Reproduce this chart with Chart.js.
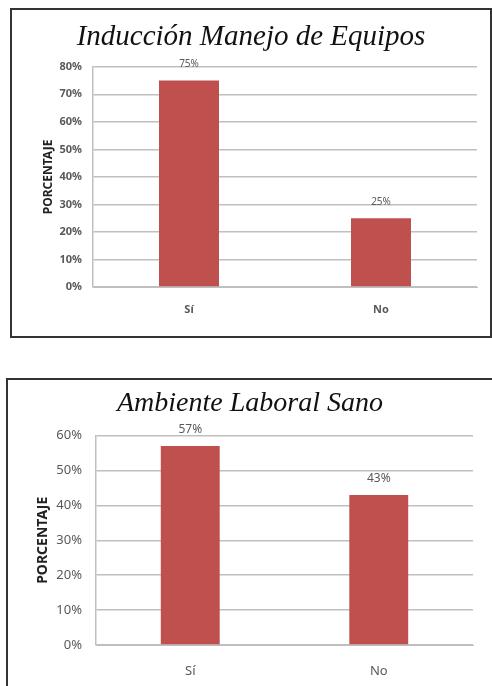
<!DOCTYPE html>
<html>
<head>
<meta charset="utf-8">
<script src="https://cdn.jsdelivr.net/npm/chart.js@4"></script>
<style>
  body { margin: 0; background: #fff; width: 492px; height: 686px; overflow: hidden; position: relative; }
  .box { position: absolute; border: 2px solid #333; box-sizing: border-box; }
  #box1 { left: 10px; top: 8px; width: 482px; height: 330px; }
  #box2 { left: 6px; top: 378px; width: 490px; height: 320px; }
  canvas { position: absolute; }
</style>
</head>
<body>
<div class="box" id="box1"></div>
<div class="box" id="box2"></div>
<canvas id="chart1" style="left:12px;top:10px;width:478px;height:326px"></canvas>
<canvas id="chart2" style="left:8px;top:380px;width:484px;height:306px"></canvas>
<script>
// datos
var categorias = ['Sí', 'No'];
var induccion = [75, 25];
var ambiente = [57, 43];
var maxInduccion = 80;
var maxAmbiente = 60;
var paso = 10;

var rojo = '#C0504D';
var gris = '#BFBFBF';
var texto = '#595959';

// etiquetas de valor encima de cada barra
var etiquetas = {
    id: 'etiquetas',
    afterDatasetsDraw: function(chart, args, opts) {
        var ctx = chart.ctx;
        var meta = chart.getDatasetMeta(0);
        var valores = chart.data.datasets[0].data;
        ctx.save();
        ctx.font = opts.size + 'px "Noto Sans"';
        ctx.fillStyle = texto;
        ctx.textAlign = 'center';
        ctx.textBaseline = 'middle';
        meta.data.forEach(function(bar, i) {
            ctx.fillText(valores[i] + '%', bar.x, bar.y - opts.offset);
        });
        ctx.restore();
    }
};

function grafica(id, titulo, valores, max, cfg) {
    new Chart(id, {
        type: 'bar',
        data: {
            labels: categorias,
            datasets: [{
                data: valores,
                backgroundColor: rojo,
                barPercentage: 0.3125,
                categoryPercentage: 1
            }]
        },
        plugins: [etiquetas],
        options: {
            responsive: false,
            animation: false,
            layout: { padding: { top: 0, left: cfg.side, bottom: 0, right: cfg.side } },
            plugins: {
                legend: { display: false },
                tooltip: { enabled: false },
                title: {
                    display: true,
                    text: titulo,
                    color: '#111',
                    font: { family: '"Liberation Serif"', style: 'italic', size: cfg.titleSize, weight: 'normal' },
                    padding: { top: cfg.titleTop, bottom: cfg.titleBottom }
                },
                etiquetas: { size: cfg.labelSize, offset: 16 }
            },
            scales: {
                x: {
                    grid: { display: false },
                    border: { color: gris },
                    ticks: { color: texto, padding: cfg.xPad, font: { family: '"Noto Sans"', size: cfg.tickSize, weight: cfg.tickWeight } },
                    afterFit: function(s) { s.height = cfg.xHeight; }
                },
                y: {
                    min: 0,
                    max: max,
                    ticks: {
                        stepSize: paso,
                        color: texto,
                        padding: cfg.yPad,
                        font: { family: '"Noto Sans"', size: cfg.tickSize, weight: cfg.tickWeight },
                        callback: function(v) { return v + '%'; }
                    },
                    grid: { color: gris, lineWidth: 1.5, drawTicks: false },
                    border: { color: gris, width: 1.5 },
                    title: {
                        display: true,
                        text: 'PORCENTAJE',
                        color: '#222',
                        font: { family: '"Noto Sans"', size: cfg.axisSize, weight: 'bold' },
                        padding: { top: cfg.axisTop, bottom: 0 }
                    },
                    afterFit: function(s) { s.width = cfg.yWidth; }
                }
            }
        }
    });
}

grafica('chart1', 'Inducción Manejo de Equipos', induccion, maxInduccion, {
    side: 13, titleSize: 29, titleTop: 10, titleBottom: 12,
    tickSize: 11, tickWeight: 'bold', labelSize: 10, xPad: 8, xHeight: 49,
    yPad: 11, yWidth: 68, axisSize: 12, axisTop: 16
});

grafica('chart2', 'Ambiente Laboral Sano', ambiente, maxAmbiente, {
    side: 19, titleSize: 28, titleTop: 7, titleBottom: 15,
    tickSize: 13, tickWeight: 'normal', labelSize: 12, xPad: 10, xHeight: 41,
    yPad: 14, yWidth: 69, axisSize: 14, axisTop: 8
});
</script>
</body>
</html>
